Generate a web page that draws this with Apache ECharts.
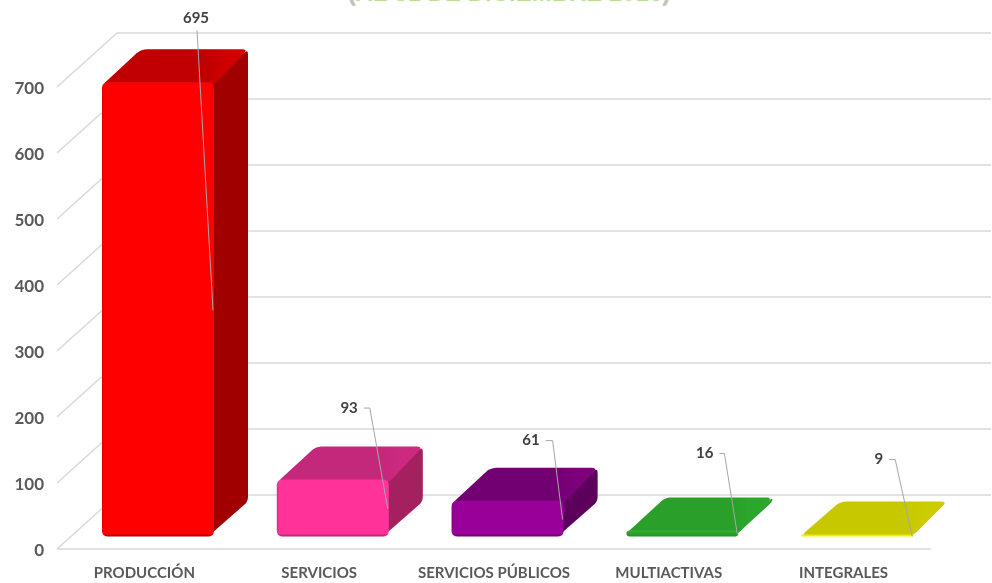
<!DOCTYPE html>
<html><head><meta charset="utf-8">
<style>html,body{margin:0;padding:0;background:#fff}#c{width:992px;height:583px}</style>
<script src="https://cdn.jsdelivr.net/npm/echarts@6/dist/echarts.min.js"></script>
</head><body><div id="c"></div>
<script>
const categories = ['PRODUCCIÓN','SERVICIOS','SERVICIOS PÚBLICOS','MULTIACTIVAS','INTEGRALES'];
const values = [695,93,61,16,9];
const ticks = [0,100,200,300,400,500,600,700];
const titleText = '(AL 31 DE DICIEMBRE 2016)';

const frontColors = ['#ff0000','#ff3399','#990099','#33b233','#ecec00'];
const topColors   = ['#c00000','#c4287a','#730073','#2a9f2a','#c8c800'];
const topLight    = ['#d00000','#cc2a80','#7c007c','#2ba82b','#cccc00'];
const sideColors  = ['#a00000','#a5205f','#5c005c','#2a9f2a','#c8c800'];
const edgeColors  = ['#a80000','#b01f6a','#6a006a','#229022','#f2f200'];
// leader-line knee relative to the bar's anchor, in px; hook is the horizontal stub
const leaderKnee = [[-16,-280,0],[-18,-101,6],[-10,-79,7],[-13,-81,5],[-17,-77,6]];

const FONT = 'Lato,"Open Sans",sans-serif';
const WALL_DX = 60, WALL_DY = 54;      // depth of the floor
const BAR_DX = 13.6, BAR_DY = 13;      // bar base, inside the floor
const BAR_W = 112, BAR_DEPTH_X = 34, BAR_DEPTH_Y = 33, BEVEL = 4;
const GRID = '#d9d9d9';

function rounded(pts, r) {
  const out = [], n = pts.length;
  for (let i = 0; i < n; i++) {
    const [px,py] = pts[(i+n-1)%n], [x,y] = pts[i], [nx,ny] = pts[(i+1)%n];
    const d1 = Math.hypot(px-x,py-y), d2 = Math.hypot(nx-x,ny-y);
    const r1 = Math.min(r,d1/2), r2 = Math.min(r,d2/2);
    const ax = x+(px-x)*r1/d1, ay = y+(py-y)*r1/d1, bx = x+(nx-x)*r2/d2, by = y+(ny-y)*r2/d2;
    for (let t = 0; t <= 1.001; t += 0.2) {
      const u = 1-t;
      out.push([u*u*ax+2*u*t*x+t*t*bx, u*u*ay+2*u*t*y+t*t*by]);
    }
  }
  return out;
}

function renderWalls(params, api) {
  const v = api.value(0);
  const rect = params.coordSys;
  const y = api.coord([categories[0], v])[1];
  const x0 = rect.x, x1 = rect.x + rect.width;
  const ls = {stroke: GRID, lineWidth: 1.5, fill: null};
  const kids = [
    {type:'line', shape:{x1:x0,y1:y,x2:x0+WALL_DX,y2:y-WALL_DY}, style:ls},
    {type:'line', shape:{x1:x0+WALL_DX,y1:y-WALL_DY,x2:x1+WALL_DX,y2:y-WALL_DY}, style:ls}
  ];
  if (v === 0) kids.push({type:'line', shape:{x1:x0,y1:y,x2:x1,y2:y}, style:ls});
  return {type:'group', children:kids, silent:true};
}

function renderBars(params, api) {
  const i = api.value(0), v = api.value(1);
  const p = api.coord([i, v]), b = api.coord([i, 0]);
  const L = p[0] + BAR_DX - BAR_W/2, R = L + BAR_W;
  const bot = b[1] - BAR_DY + 0.5;
  const top = Math.min(bot - 2, p[1] - BAR_DY + 5);
  const dx = BAR_DEPTH_X, dy = BAR_DEPTH_Y;
  const h = bot - top;
  const rr = Math.min(BEVEL + 2, h/2 + 1);
  const under = Math.min(3, h/2);
  const topGrad = {type:'linear',x:0,y:0,x2:1,y2:0,colorStops:[
    {offset:0,color:topColors[i]},{offset:.72,color:topColors[i]},{offset:.86,color:topLight[i]},{offset:1,color:topLight[i]}]};
  const frontGrad = {type:'linear',x:0,y:0,x2:0,y2:1,colorStops:
    h > 12 ? [
      {offset:0,color:frontColors[i]},
      {offset:Math.max(0,1-3/h),color:frontColors[i]},
      {offset:1,color:edgeColors[i]}]
    : [{offset:0,color:frontColors[i]},{offset:1,color:edgeColors[i]}]};
  const kids = [
    {type:'polygon', shape:{points:rounded([[R-rr,top+under],[R+dx,top-dy],[R+dx,bot-dy-2],[R-rr,bot]],5)}, style:{fill:sideColors[i]}},
    {type:'polygon', shape:{points:rounded([[L,top+under],[L+dx+5,top-dy],[R+dx,top-dy],[R,top+under]],6)}, style:{fill:topGrad}},
    {type:'polygon', shape:{points:rounded([[L,top],[R,top],[R,bot],[L,bot]],rr)}, style:{fill:frontGrad}}
  ];
  if (h > 12) {
    kids.push({type:'rect', shape:{x:L,y:top+5,width:1.5,height:h-10}, style:{fill:'rgba(0,0,0,0.12)'}});
  }
  // leader line and value label
  const ax = R - 1, ay = (top + bot) / 2 + 1;
  const k = leaderKnee[i];
  const kx = ax + k[0], ky = ay + k[1];
  const pts = k[2] ? [[kx - k[2], ky],[kx, ky],[ax, ay]] : [[kx, ky],[ax, ay]];
  kids.push({type:'polyline', shape:{points:pts}, style:{stroke:'#a6a6a6',lineWidth:1,fill:null}});
  kids.push({type:'text', style: k[2]
    ? {x:kx-k[2]-6, y:ky, text:String(v), align:'right', verticalAlign:'middle', fill:'#404040', font:'bold 15px '+FONT}
    : {x:kx-1, y:ky-5, text:String(v), align:'center', verticalAlign:'bottom', fill:'#404040', font:'bold 15px '+FONT}});
  return {type:'group', children:kids};
}

const chart = echarts.init(document.getElementById('c'), null, {renderer:'canvas'});
chart.setOption({
  animation:false,
  backgroundColor:'#fff',
  title:{text:titleText,left:504,top:-24,textAlign:'center',
    textStyle:{color:'#c2c2c2',fontSize:24,fontWeight:'bold',fontFamily:'"Liberation Sans",sans-serif',
      textShadowColor:'#b5d98a',textShadowBlur:1,textShadowOffsetX:0,textShadowOffsetY:1}},
  grid:{left:57,right:61,top:87,bottom:34},
  xAxis:{type:'category',data:categories,
    axisLine:{show:false},axisTick:{show:false},
    axisLabel:{color:'#595959',fontSize:15,fontWeight:'bold',fontFamily:FONT,margin:17,interval:0}},
  yAxis:{type:'value',min:0,max:700,interval:100,
    axisLine:{show:false},axisTick:{show:false},splitLine:{show:false},
    axisLabel:{color:'#595959',fontSize:17,fontWeight:'bold',fontFamily:FONT,margin:13,verticalAlign:'top',lineHeight:4}},
  series:[
    {type:'custom',coordinateSystem:'cartesian2d',renderItem:renderWalls,data:ticks.map(t=>[t]),encode:{y:0},clip:false,z:1,silent:true},
    {type:'custom',coordinateSystem:'cartesian2d',renderItem:renderBars,data:values.map((v,i)=>[i,v]),encode:{x:0,y:1},clip:false,z:2}
  ]
});
</script></body></html>
